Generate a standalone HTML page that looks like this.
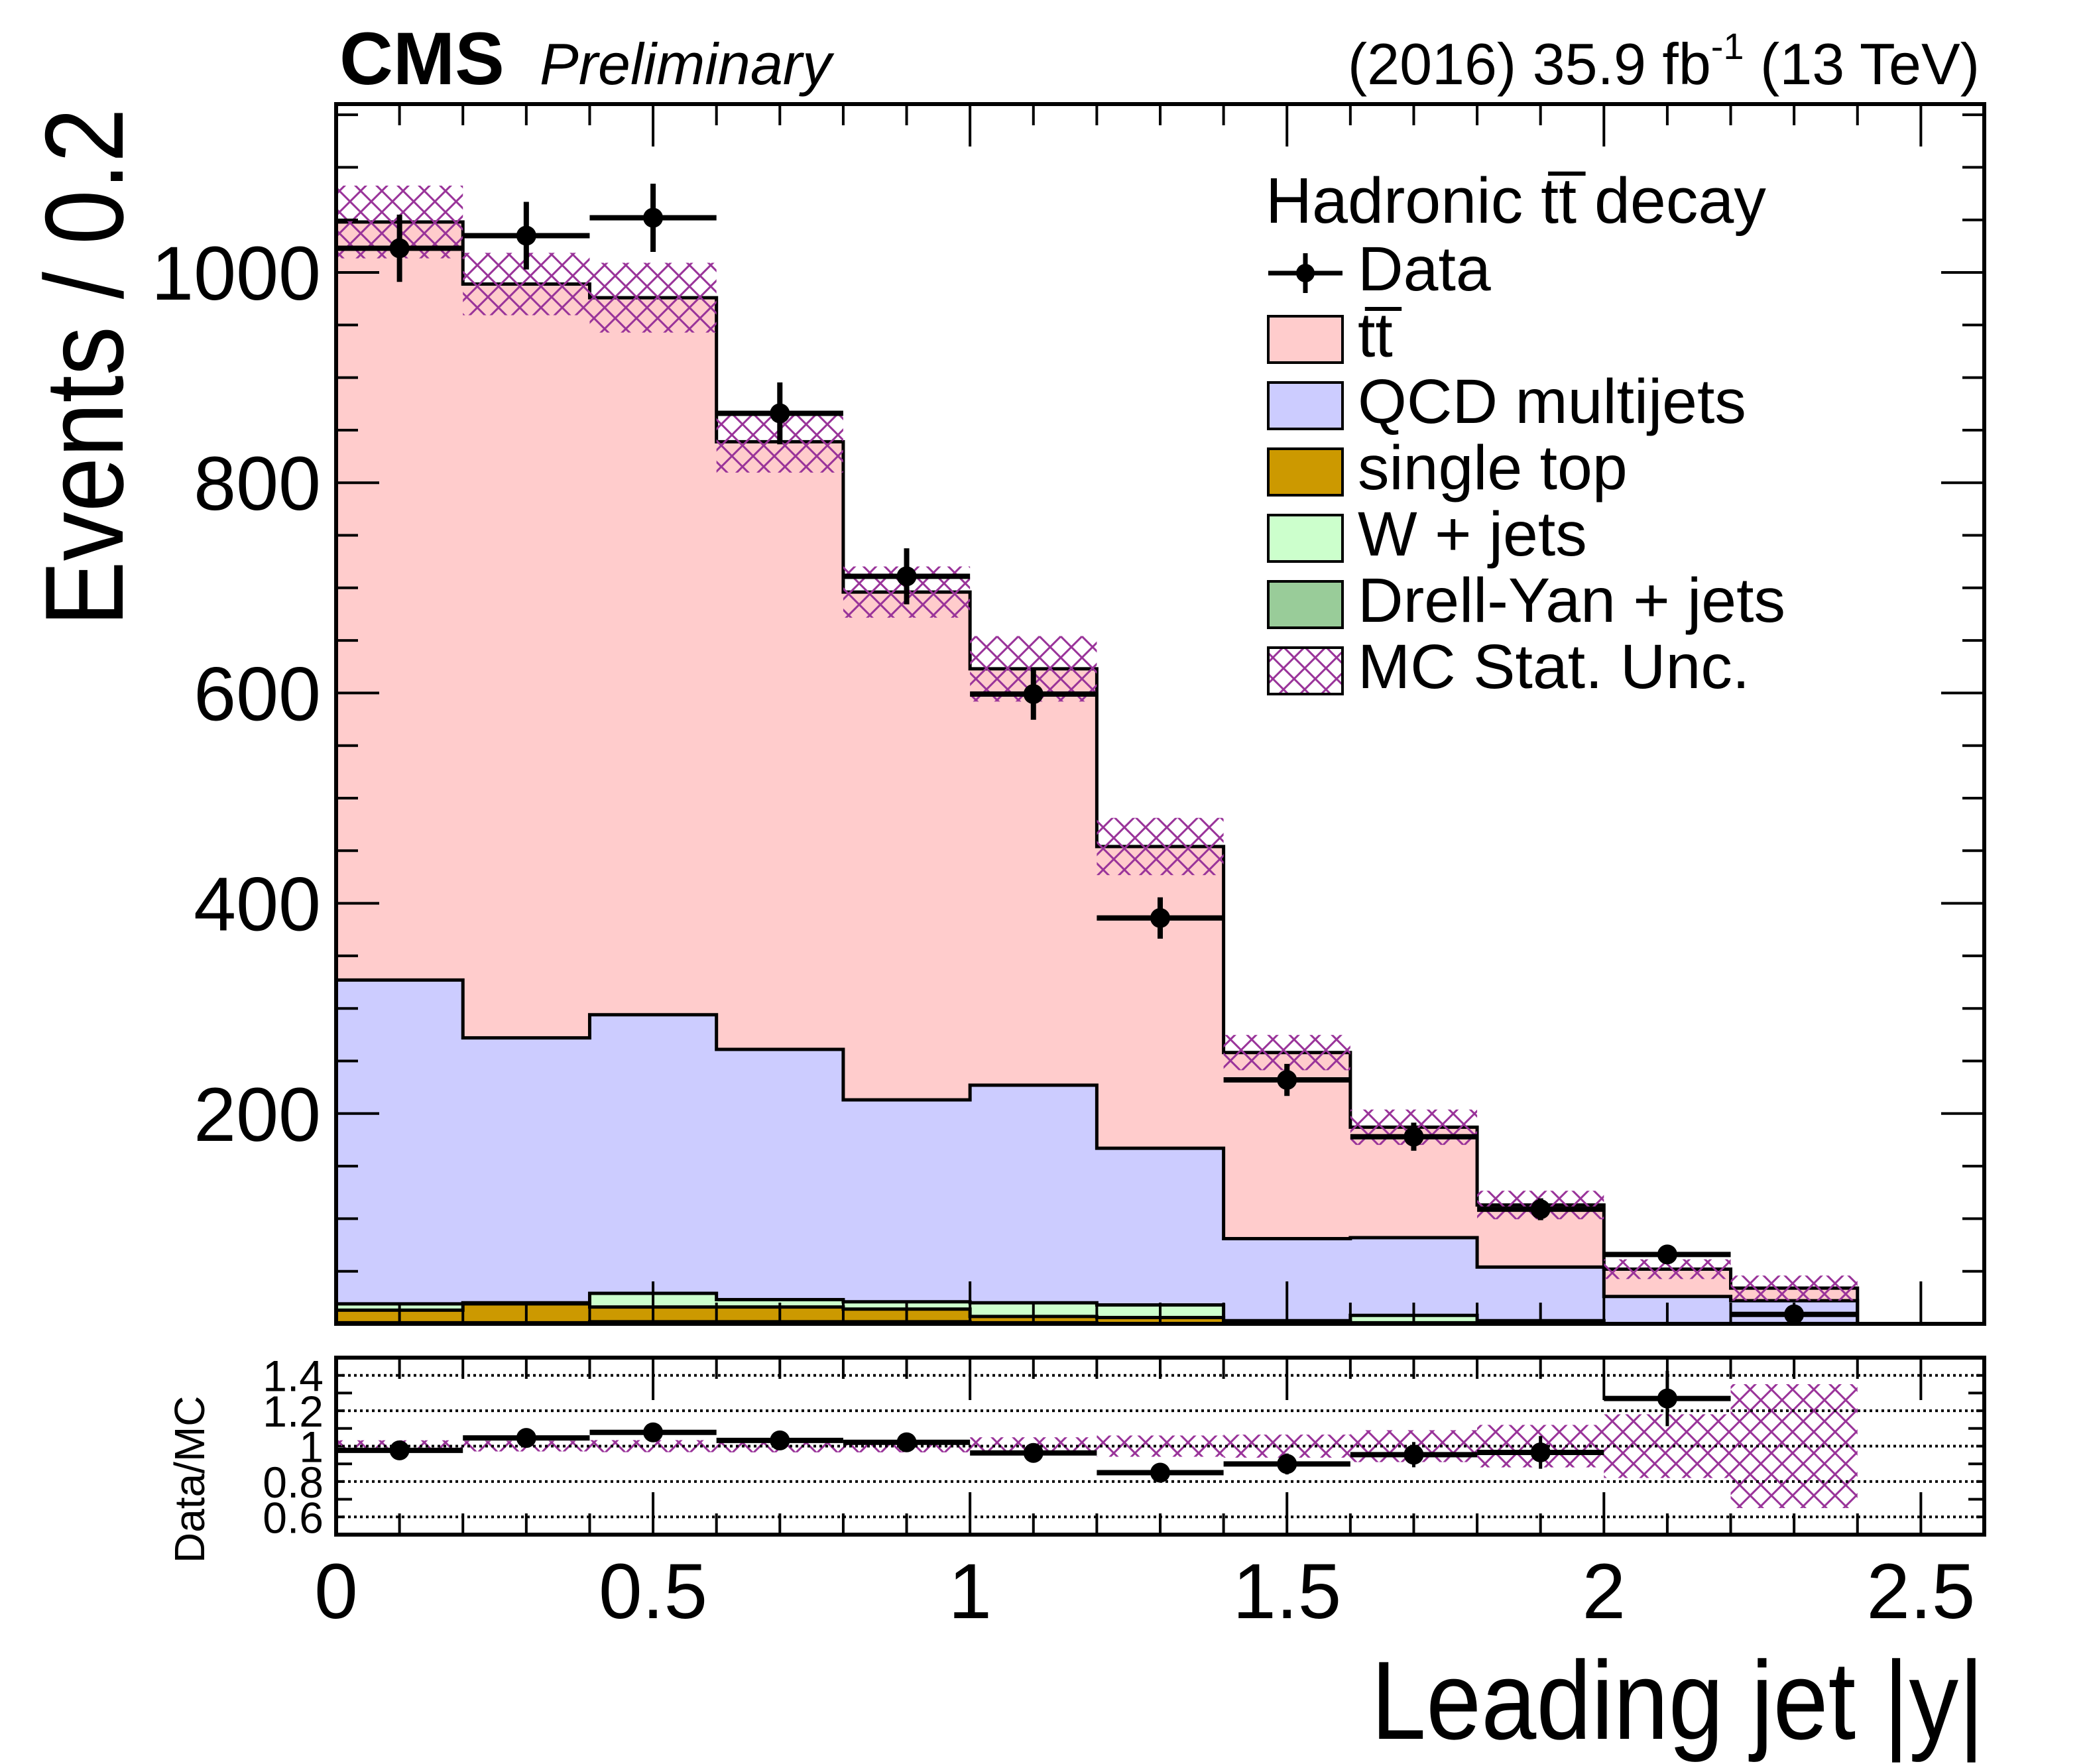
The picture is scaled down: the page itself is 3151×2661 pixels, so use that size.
<!DOCTYPE html>
<html><head><meta charset="utf-8"><style>
html,body{margin:0;padding:0;background:#fff;}
svg{display:block;font-family:"Liberation Sans",Arial,sans-serif;}
</style></head><body>
<svg id="c" width="3151" height="2661" viewBox="0 0 3151 2661" xmlns="http://www.w3.org/2000/svg">
<defs>
<pattern id="hatch" patternUnits="userSpaceOnUse" width="32" height="32">
<path d="M0,0 L32,32 M32,0 L0,32 M-4,28 L4,36 M28,-4 L36,4 M-4,4 L4,-4 M28,36 L36,28" stroke="#993399" stroke-width="3" fill="none"/>
</pattern>
</defs>
<text x="512" y="127" font-size="112" font-weight="bold">CMS</text>
<text x="814" y="127" font-size="88" font-style="italic">Preliminary</text>
<text x="2986" y="127" font-size="88" text-anchor="end">(2016) 35.9 fb<tspan dy="-38" font-size="56">-1</tspan><tspan dy="38"> (13 TeV)</tspan></text>
<g id="main"></g>
<g id="ratio"></g>
<text transform="translate(185,163) rotate(-90)" font-size="168" text-anchor="end" textLength="782" lengthAdjust="spacingAndGlyphs">Events / 0.2</text>
<text transform="translate(308,2358) rotate(-90)" font-size="64" text-anchor="start">Data/MC</text>
<text x="2993" y="2623" font-size="168" text-anchor="end" textLength="925" lengthAdjust="spacingAndGlyphs">Leading jet |y|</text>
<g id="legend"></g>
</svg>
<script>
const binEdges=[0,0.2,0.4,0.6,0.8,1.0,1.2,1.4,1.6,1.8,2.0,2.2,2.4,2.6];
const dyVals=[1,1,2,2,2,1,0,0,0,0,0,0,0];
const stVals=[12,18,14,14,12,6,6,2,1,0,0,0,0];
const wjVals=[6,1,13,7,7,13,12,1,7,3,0,0,0];
const qcdVals=[308,252,265,238,192,207,149,78,74,51,26,22,0];
const ttVals=[721,717,682,578,483,396,287,177,105,59,26,12,0];
const dataVals=[1023,1035,1052,866,711,599,386,232,178,109,66,9];
const mcRelUnc=[0.033,0.03,0.034,0.035,0.035,0.05,0.06,0.065,0.09,0.12,0.18,0.35,0];
const yTicks=[200,400,600,800,1000];
const xTickLabels=["0","0.5","1","1.5","2","2.5"];
const xTickVals=[0,0.5,1,1.5,2,2.5];
const rTicks=["1.4","1.2","1","0.8","0.6"];
const rTickVals=[1.4,1.2,1.0,0.8,0.6];

const NS="http://www.w3.org/2000/svg";
const X0=507,X1=2993,XMAX=2.6;
const MT=157,MB=1997,YMAX=(1997-157)/1.586;
const RT=2048,RB=2315,RMIN=0.5,RMAX=1.5;
function xs(v){return X0+(X1-X0)*v/XMAX;}
function ys(v){return MB-(MB-MT)*Math.min(v,YMAX)/YMAX;}
function yr(v){return RB-(RB-RT)*(Math.max(RMIN,Math.min(RMAX,v))-RMIN)/(RMAX-RMIN);}
function mk(tag,attrs,parent){const e=document.createElementNS(NS,tag);for(const k in attrs)e.setAttribute(k,attrs[k]);parent.appendChild(e);return e;}
const main=document.getElementById('main'),ratio=document.getElementById('ratio'),leg=document.getElementById('legend');
const nb=binEdges.length-1;
const comps=[{v:dyVals,c:"#99cc99",n:"dy"},{v:stVals,c:"#cc9900",n:"single-top"},{v:wjVals,c:"#ccffcc",n:"wjets"},{v:qcdVals,c:"#ccccff",n:"qcd"},{v:ttVals,c:"#ffcccc",n:"ttbar"}];
let cum=new Array(nb).fill(0);
const tops=[];
comps.forEach(cp=>{const t=cum.map((s,i)=>s+cp.v[i]);tops.push({t:t,c:cp.c,n:cp.n});cum=t;});
const total=cum;
for(let k=tops.length-1;k>=0;k--){
  const t=tops[k].t;
  let d="M"+xs(0)+","+ys(0);
  for(let i=0;i<nb;i++){d+=" L"+xs(binEdges[i])+","+ys(t[i])+" L"+xs(binEdges[i+1])+","+ys(t[i]);}
  d+=" L"+xs(XMAX)+","+ys(0)+" Z";
  const p=mk('path',{d:d,fill:tops[k].c,stroke:"none"},main);
  
  
}
for(let k=tops.length-1;k>=0;k--){
  const t=tops[k].t;
  let d="M"+xs(0)+","+ys(t[0]);
  for(let i=0;i<nb;i++){d+=" L"+xs(binEdges[i])+","+ys(t[i])+" L"+xs(binEdges[i+1])+","+ys(t[i]);}
  const p=mk('path',{d:d,fill:"none",stroke:"#000","stroke-width":5},main);
  
  
}
for(let i=0;i<nb;i++){
  if(total[i]<=0)continue;
  const u=mcRelUnc[i]*total[i];
  const r=mk('rect',{x:xs(binEdges[i]),y:ys(total[i]+u),width:xs(binEdges[i+1])-xs(binEdges[i]),height:ys(total[i]-u)-ys(total[i]+u),fill:"url(#hatch)"},main);
  
  
  const rr=mk('rect',{x:xs(binEdges[i]),y:yr(1+mcRelUnc[i]),width:xs(binEdges[i+1])-xs(binEdges[i]),height:yr(1-mcRelUnc[i])-yr(1+mcRelUnc[i]),fill:"url(#hatch)"},ratio);
  
  
}
for(let i=0;i<dataVals.length;i++){
  const v=dataVals[i],e=Math.sqrt(v),cx=xs((binEdges[i]+binEdges[i+1])/2);
  const g=mk('g',{},main);
  
  
  mk('line',{x1:xs(binEdges[i]),x2:xs(binEdges[i+1]),y1:ys(v),y2:ys(v),stroke:"#000","stroke-width":8},g);
  mk('line',{x1:cx,x2:cx,y1:ys(v+e),y2:ys(v-e),stroke:"#000","stroke-width":8},g);
  mk('circle',{cx:cx,cy:ys(v),r:15,fill:"#000"},g);
  const rv=v/total[i],re=e/total[i];
  if(rv>=RMIN&&rv<=RMAX){
    const g2=mk('g',{},ratio);
    
    
    mk('line',{x1:xs(binEdges[i]),x2:xs(binEdges[i+1]),y1:yr(rv),y2:yr(rv),stroke:"#000","stroke-width":8},g2);
    mk('line',{x1:cx,x2:cx,y1:yr(rv+re),y2:yr(rv-re),stroke:"#000","stroke-width":5},g2);
    mk('circle',{cx:cx,cy:yr(rv),r:15,fill:"#000"},g2);
  }
}
const fr=mk('rect',{x:X0,y:MT,width:X1-X0,height:MB-MT,fill:"none",stroke:"#000","stroke-width":6},main);


let td="";
for(let k=0;k<=26;k++){const v=k*0.1,x=xs(v),L=(k%5===0)?64:32;td+="M"+x+","+MB+" v"+(-L)+" M"+x+","+MT+" v"+L+" ";td+="M"+x+","+RB+" v"+(-L)+" M"+x+","+RT+" v"+L+" ";}
for(let v=50;v<YMAX;v+=50){const y=ys(v),L=(v%200===0)?65:33;td+="M"+X0+","+y+" h"+L+" M"+X1+","+y+" h"+(-L)+" ";}
for(let k=0;k<=10;k++){const v=0.5+k*0.1,y=yr(v),L=(k%2===0)?24:12;td+="M"+X0+","+y+" h"+L+" M"+X1+","+y+" h"+(-L)+" ";}
const tp=mk('path',{d:td,stroke:"#000","stroke-width":4,fill:"none"},main);


yTicks.forEach(v=>{const t=mk('text',{x:484,y:ys(v)+41,"font-size":115,"text-anchor":"end"},main);t.textContent=String(v);

});
rTickVals.forEach((v,i)=>{const l=mk('line',{x1:X0,x2:X1,y1:yr(v),y2:yr(v),stroke:"#000","stroke-width":4,"stroke-dasharray":"4,5"},ratio);


const t=mk('text',{x:488,y:yr(v)+24,"font-size":66,"text-anchor":"end"},ratio);t.textContent=rTicks[i];

});
const rf=mk('rect',{x:X0,y:RT,width:X1-X0,height:RB-RT,fill:"none",stroke:"#000","stroke-width":6},ratio);


xTickVals.forEach((v,i)=>{const t=mk('text',{x:xs(v),y:2441,"font-size":118,"text-anchor":"middle"},ratio);t.textContent=xTickLabels[i];

});
const lh=mk('text',{x:1909,y:336,"font-size":97},leg);lh.textContent="Hadronic t\u0074\u0305 decay";


const legItems=[{n:"Data",c:null},{n:"t\u0074\u0305",c:"#ffcccc"},{n:"QCD multijets",c:"#ccccff"},{n:"single top",c:"#cc9900"},{n:"W + jets",c:"#ccffcc"},{n:"Drell-Yan + jets",c:"#99cc99"},{n:"MC Stat. Unc."}];
legItems[6].c="url(#hatch)";
legItems.forEach((it,i)=>{const cy=412+i*100;const g=mk('g',{},leg);


if(it.c===null){mk('line',{x1:1913,x2:2025,y1:cy,y2:cy,stroke:"#000","stroke-width":7},g);mk('line',{x1:1969,x2:1969,y1:cy-30,y2:cy+30,stroke:"#000","stroke-width":7},g);mk('circle',{cx:1969,cy:cy,r:14,fill:"#000"},g);}
else{mk('rect',{x:1913,y:cy-35,width:112,height:70,fill:it.c,stroke:"#000","stroke-width":4},g);}
const t=mk('text',{x:2048,y:cy+26,"font-size":95},g);t.textContent=it.n;});
</script>
</body></html>
